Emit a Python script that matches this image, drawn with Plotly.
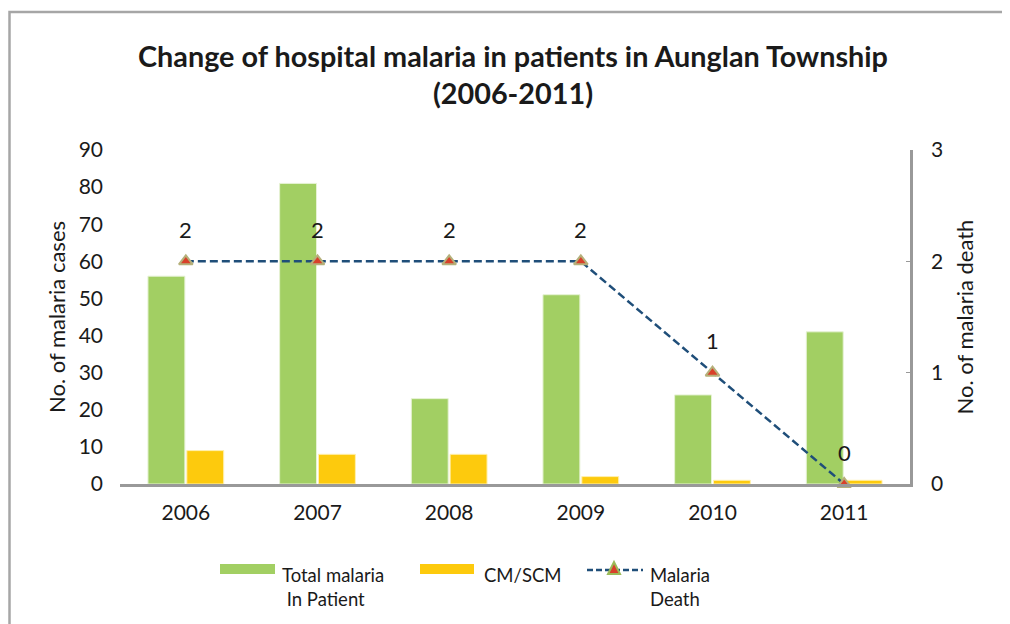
import plotly.graph_objects as go

years = ["2006", "2007", "2008", "2009", "2010", "2011"]
total_inpatient = [56, 81, 23, 51, 24, 41]
cm_scm = [9, 8, 8, 2, 1, 1]
malaria_death = [2, 2, 2, 2, 1, 0]

FONT = "Lato"
TXT = "#1a1a1a"
OFF = 8  # page body margin in the browser

W, H = 1010, 624
# plot area in screen pixels
SX0, SX1, SY0, SY1 = 120, 910, 150, 484
L, T = SX0 - OFF, SY0 - OFF
R, B = W - (SX1 - OFF), H - (SY1 - OFF)
PW, PH = SX1 - SX0, SY1 - SY0


def px(x):
    return (x - SX0) / PW


def py(y):
    return (SY1 - y) / PH


fig = go.Figure()
fig.add_trace(go.Bar(x=years, y=total_inpatient, name="Total malaria In Patient",
                     marker=dict(color="#A2CF63", line=dict(color="#E6F2D4", width=1)),
                     showlegend=False))
fig.add_trace(go.Bar(x=years, y=cm_scm, name="CM/SCM",
                     marker=dict(color="#FDCA0D", line=dict(color="#FFF0B0", width=1)),
                     showlegend=False))
fig.add_trace(go.Scatter(x=years, y=malaria_death, name="Malaria Death", yaxis="y2",
                         mode="lines+markers",
                         line=dict(color="#1F4E79", width=2.5, dash="8px,4px"),
                         marker=dict(symbol="triangle-up", size=12, color="#D8402A",
                                     line=dict(color="#B5B07A", width=2)),
                         showlegend=False, cliponaxis=False))

shapes = []
# outer frame
shapes.append(dict(type="rect", xref="paper", yref="paper",
                   x0=px(OFF + 1.5), x1=px(1040), y0=py(660), y1=py(12),
                   line=dict(color="#A6A6A6", width=2.5), fillcolor="rgba(0,0,0,0)", layer="below"))
# legend swatches
shapes.append(dict(type="rect", xref="paper", yref="paper", x0=px(220), x1=px(275),
                   y0=py(574), y1=py(564), fillcolor="#A2CF63", line=dict(width=0)))
shapes.append(dict(type="rect", xref="paper", yref="paper", x0=px(420), x1=px(474),
                   y0=py(574), y1=py(564), fillcolor="#FDCA0D", line=dict(width=0)))
shapes.append(dict(type="line", xref="paper", yref="paper", x0=px(587), x1=px(643),
                   y0=py(570), y1=py(570), line=dict(color="#1F4E79", width=2.5, dash="6px,3px")))
tx, ty = 614, 569
shapes.append(dict(type="path", xref="paper", yref="paper",
                   path=f"M {px(tx-6)} {py(ty+5)} L {px(tx+6)} {py(ty+5)} L {px(tx)} {py(ty-7)} Z",
                   fillcolor="#D8402A", line=dict(color="#9BBB59", width=2)))

annotations = []
# data labels above death points (category index positions)
for i, v in enumerate(malaria_death):
    annotations.append(dict(x=i, y=v, xref="x", yref="y2", text=str(v), showarrow=False,
                            yshift=32, font=dict(size=22, color=TXT, family=FONT)))
legend_items = [(280, "Total malaria<br>&nbsp;In Patient"), (482, "CM/SCM"), (648, "Malaria<br>Death")]
for x, t in legend_items:
    annotations.append(dict(xref="paper", yref="paper", x=px(x), y=py(562), xanchor="left",
                            yanchor="top", text=t, showarrow=False, align="left",
                            font=dict(size=18.5, color=TXT, family=FONT)))

fig.update_layout(
    width=W, height=H,
    margin=dict(l=L, r=R, t=T, b=B),
    paper_bgcolor="white", plot_bgcolor="white",
    font=dict(family=FONT, color=TXT, size=21),
    title=dict(text="<b>Change of hospital malaria in patients in Aunglan Township<br>(2006-2011)</b>",
               x=0.5, xanchor="center", y=1 - 59 / H, yanchor="top",
               font=dict(size=28.8, family=FONT, color=TXT)),
    barmode="group", bargap=0.41, bargroupgap=0.05,
    xaxis=dict(type="category", range=[-0.5, len(years) - 0.5], autorange=False,
               showline=True, linecolor="#999999", linewidth=3,
               ticks="", tickfont=dict(size=21), showgrid=False, ticklabelstandoff=8),
    yaxis=dict(range=[0, 90], dtick=10, showgrid=False, showline=False, zeroline=False,
               ticks="", tickfont=dict(size=21), ticklabelstandoff=16,
               title=dict(text="No. of malaria cases", font=dict(size=22), standoff=6)),
    yaxis2=dict(range=[0, 3], dtick=1, overlaying="y", side="right", showgrid=False,
                showline=True, linecolor="#999999", linewidth=2.5, zeroline=False,
                ticks="inside", ticklen=4, tickcolor="#999999", tickfont=dict(size=21),
                ticklabelstandoff=14,
                title=dict(text="No. of malaria death", font=dict(size=22), standoff=16)),
    shapes=shapes, annotations=annotations,
)

fig.write_html("out.html")
